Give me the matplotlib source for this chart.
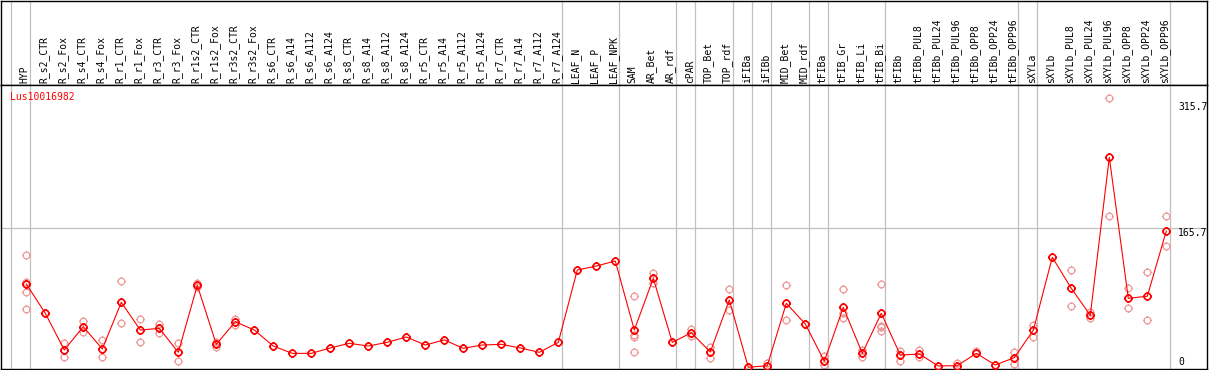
import numpy as np
import matplotlib
matplotlib.use('Agg')
from matplotlib import pyplot as plt
from matplotlib.path import Path

plt.rcParams['font.family'] = ['DejaVu Sans Mono']

labels = ['HYP', 'R_s2_CTR', 'R_s2_Fox', 'R_s4_CTR', 'R_s4_Fox', 'R_r1_CTR', 'R_r1_Fox',
          'R_r3_CTR', 'R_r3_Fox', 'R_r1s2_CTR', 'R_r1s2_Fox', 'R_r3s2_CTR', 'R_r3s2_Fox',
          'R_s6_CTR', 'R_s6_A14', 'R_s6_A112', 'R_s6_A124', 'R_s8_CTR', 'R_s8_A14',
          'R_s8_A112', 'R_s8_A124', 'R_r5_CTR', 'R_r5_A14', 'R_r5_A112', 'R_r5_A124',
          'R_r7_CTR', 'R_r7_A14', 'R_r7_A112', 'R_r7_A124', 'LEAF_N', 'LEAF_P', 'LEAF_NPK',
          'SAM', 'AR_Bet', 'AR_rdf', 'cPAR', 'TOP_Bet', 'TOP_rdf', 'iFIBa', 'iFIBb',
          'MID_Bet', 'MID_rdf', 'tFIBa', 'tFIB_Gr', 'tFIB_Li', 'tFIB_Bi', 'tFIBb',
          'tFIBb_PUL8', 'tFIBb_PUL24', 'tFIBb_PUL96', 'tFIBb_OPP8', 'tFIBb_OPP24',
          'tFIBb_OPP96', 'sXYLa', 'sXYLb', 'sXYLb_PUL8', 'sXYLb_PUL24', 'sXYLb_PUL96',
          'sXYLb_OPP8', 'sXYLb_OPP24', 'sXYLb_OPP96']

mean_values = [99.2, 64.4, 20.8, 48.5, 22.0, 77.4, 44.5, 46.5, 18.0, 97.6,
               27.5, 54.4, 44.5, 25.5, 16.8, 16.8, 23.2, 28.7, 25.5, 29.9,
               36.2, 26.7, 32.7, 22.8, 26.7, 27.5, 23.2, 18.0, 29.9, 115.8,
               120.5, 126.5, 44.5, 105.9, 29.9, 41.3, 18.4, 80.2, 0.2, 2.2,
               76.2, 51.7, 7.4, 71.5, 16.8, 64.4, 14.8, 16.0, 1.8, 2.2,
               16.8, 3.0, 11.7, 44.2, 130.9, 94.0, 62.0, 249.6, 82.2, 84.6, 162.1]

# replicate values (only the ones that show apart from the mean)
rep_values = [[133.2, 101.2, 90.0, 69.1], [], [28.7, 12.8], [55.2, 41.8], [32.7, 12.5],
              [102.7, 52.5], [57.6, 29.9], [52.0, 40.6], [29.1, 7.4], [100.0, 95.5],
              [30.6, 24.5], [58.0, 51.0], [], [], [], [], [], [], [], [],
              [], [], [], [], [], [], [], [], [], [],
              [], [], [84.6, 38.6, 35.9, 18.0], [112.6, 100.0], [], [45.4, 37.4],
              [24.7, 10.9], [92.9, 68.3], [], [4.8],
              [98.0, 56.4], [], [13.7, 3.3], [92.9, 59.1, 64.4], [20.8, 12.8],
              [99.2, 49.3, 43.7, 47.7], [20.0, 8.1], [20.8, 12.1], [], [5.7],
              [20.0], [], [18.8, 3.8], [50.5, 35.9], [], [115.8, 72.7], [65.6, 58.4],
              [319.7, 179.6], [94.0, 70.3], [113.4, 56.4], [179.9, 144.3]]

group_ends = [-1, 0, 28, 31, 34, 35, 37, 38, 39, 41, 42, 45, 52, 53, 60]
y_marks = [315.7, 165.7, 0]
gene = 'Lus10016982'

# circle marker with four little ticks
circ = Path.unit_circle()
ticks = Path([(0, 1), (0, 1.35), (0, -1), (0, -1.35), (1, 0), (1.35, 0), (-1, 0), (-1.35, 0)],
             [Path.MOVETO, Path.LINETO] * 4)
sun = Path.make_compound_path(circ, ticks)

x = np.arange(len(labels))
W, H = 1209, 370
fig = plt.figure(figsize=(W / 100, H / 100), dpi=100)

x0, x1 = (1 - 26.3) / 19, (1206.5 - 26.3) / 19

# header with names
axh = fig.add_axes([1 / W, (H - 85) / H, 1205.5 / W, 84.5 / H])
axh.set_xlim(x0, x1)
axh.set_ylim(0, 85)
axh.set_xticks([])
axh.set_yticks([])
for s in axh.spines.values():
    s.set_color('black')
    s.set_linewidth(1)
for i, lab in enumerate(labels):
    axh.text(i - 0.08, 2, lab, rotation=90, ha='center', va='bottom', fontsize=7)

# plot area
ax = fig.add_axes([1 / W, 1.5 / H, 1205.5 / W, 283.5 / H])
ax.set_xlim(x0, x1)
ax.set_ylim(-1.19, 335.5)
ax.set_xticks([])
ax.set_yticks([])
for s in ax.spines.values():
    s.set_color('black')
    s.set_linewidth(1)
ax.axhline(165.7, color='#c0c0c0', lw=0.9, zorder=1)
for g in group_ends:
    axh.axvline(g + 0.21, color='#c0c0c0', lw=0.9, zorder=0)
    ax.axvline(g + 0.21, color='#c0c0c0', lw=0.9, zorder=1)

rx = [i for i, r in enumerate(rep_values) for _ in r]
ry = [v for r in rep_values for v in r]
ax.plot(rx, ry, ls='none', marker=sun, ms=6.5, mfc='none', mec='#f09a9a', mew=0.9, zorder=2)
ax.plot(x, mean_values, color='red', lw=0.8, marker=sun, ms=6.5, mfc='none', mec='red',
        mew=1.2, zorder=3)

tx = (1178 - 26.3) / 19
ax.text(tx, 315.7, '315.7', ha='left', va='top', fontsize=7)
ax.text(tx, 165.7, '165.7', ha='left', va='top', fontsize=7)
ax.text(tx, 0.5, '0', ha='left', va='bottom', fontsize=7)
ax.text(9 / 1205.5, 1 - 7 / 283.5, gene, color='red', ha='left', va='top', fontsize=7,
        transform=ax.transAxes)

fig.savefig('out.png', dpi=100)
